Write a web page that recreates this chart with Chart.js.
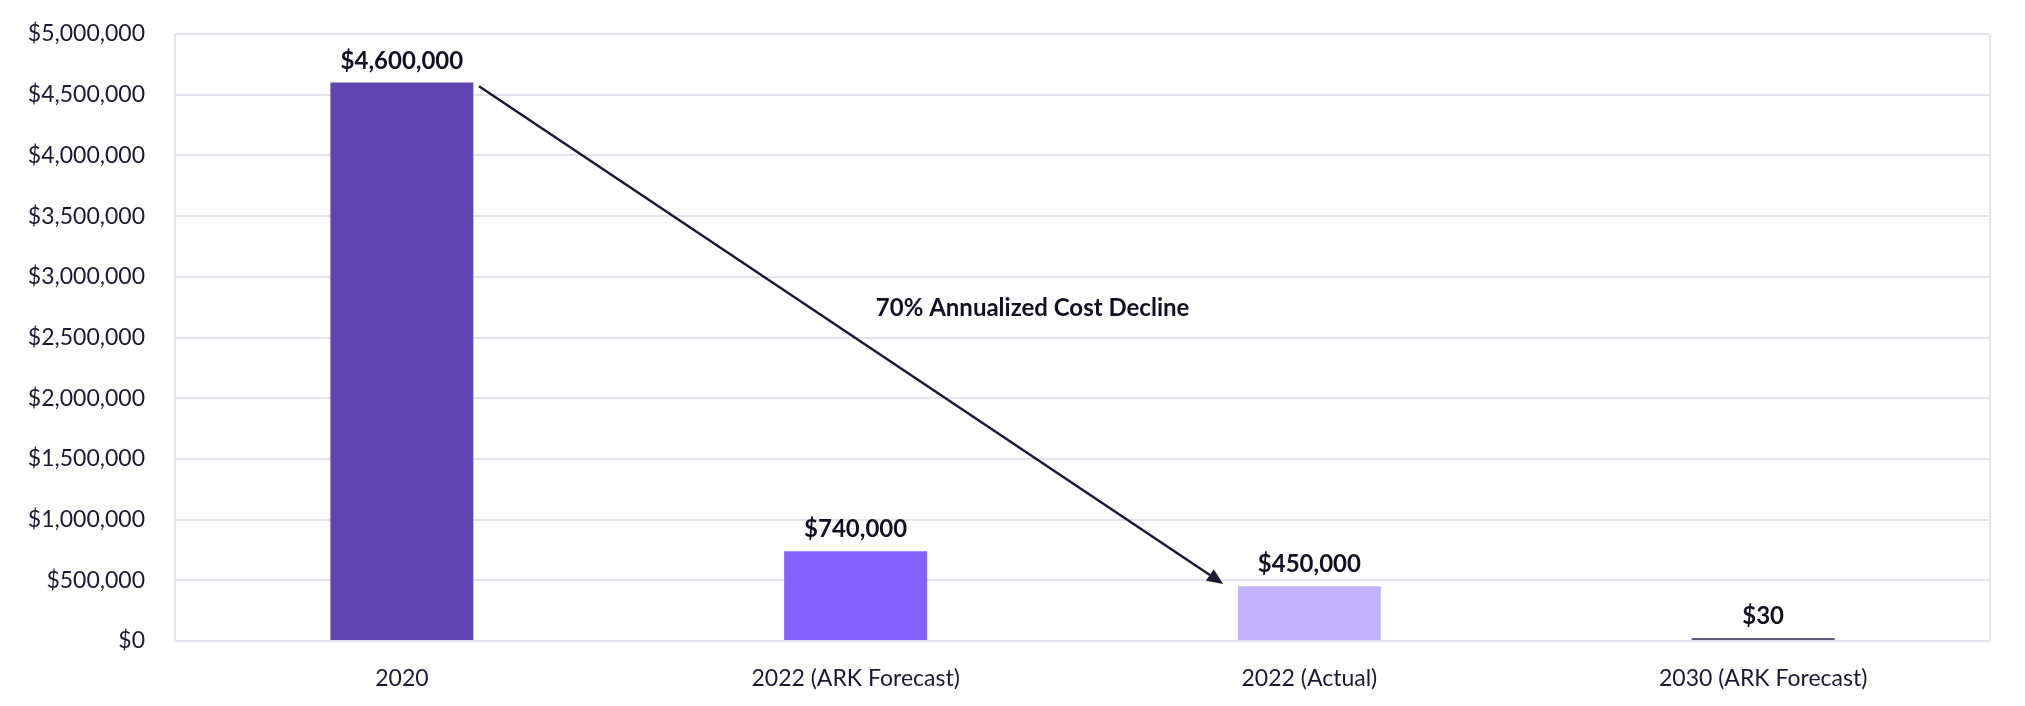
<!DOCTYPE html>
<html>
<head>
<meta charset="utf-8">
<script src="https://cdn.jsdelivr.net/npm/chart.js@4"></script>
<style>
html,body{margin:0;padding:0;background:#fff;}
#wrap{width:2025px;height:706px;}
</style>
</head>
<body>
<div id="wrap"><canvas id="c"></canvas></div>
<script>
const categories = ["2020", "2022 (ARK Forecast)", "2022 (Actual)", "2030 (ARK Forecast)"];
const costs = [4600000, 740000, 450000, 30];
const barColors = ["#5E45AF", "#8462FF", "#C3B3FF", "#5A5A7C"];
const yTickValues = [0, 500000, 1000000, 1500000, 2000000, 2500000, 3000000, 3500000, 4000000, 4500000, 5000000];
const annotationText = "70% Annualized Cost Decline";
const annotationPos = [1.39, 2740000];
const arrowFrom = [0.17, 4570000];
const arrowTo = [1.81, 470000];

const FONT = "Lato, 'Noto Sans', sans-serif";
const fmt = v => "$" + Math.round(v).toLocaleString("en-US");

const extras = {
  id: "extras",
  beforeDatasetsDraw(chart) {
    const ctx = chart.ctx, a = chart.chartArea;
    ctx.save();
    ctx.strokeStyle = "#e4e4ec";
    ctx.lineWidth = 2;
    ctx.beginPath();
    ctx.moveTo(a.right, a.top);
    ctx.lineTo(a.right, a.bottom);
    ctx.stroke();
    ctx.restore();
  },
  afterDatasetsDraw(chart) {
    const ctx = chart.ctx;
    const xs = chart.scales.x, ys = chart.scales.y;
    const meta = chart.getDatasetMeta(0);
    ctx.save();
    ctx.fillStyle = "#111122";
    ctx.font = "bold 24px " + FONT;
    ctx.textAlign = "center";
    ctx.textBaseline = "alphabetic";
    meta.data.forEach((bar, i) => {
      ctx.fillText(fmt(costs[i]), bar.x, bar.y - 14);
    });
    // annotation text
    ctx.textBaseline = "middle";
    ctx.fillText(annotationText, xs.getPixelForValue(annotationPos[0]), ys.getPixelForValue(annotationPos[1]));
    // arrow
    const x1 = xs.getPixelForValue(arrowFrom[0]), y1 = ys.getPixelForValue(arrowFrom[1]);
    const x2 = xs.getPixelForValue(arrowTo[0]), y2 = ys.getPixelForValue(arrowTo[1]);
    const ang = Math.atan2(y2 - y1, x2 - x1);
    const hl = 16, hw = 7;
    const bx = x2 - hl * Math.cos(ang), by = y2 - hl * Math.sin(ang);
    ctx.strokeStyle = "#1a1a33";
    ctx.fillStyle = "#1a1a33";
    ctx.lineWidth = 2.5;
    ctx.beginPath();
    ctx.moveTo(x1, y1);
    ctx.lineTo(bx, by);
    ctx.stroke();
    ctx.beginPath();
    ctx.moveTo(x2, y2);
    ctx.lineTo(bx + hw * Math.sin(ang), by - hw * Math.cos(ang));
    ctx.lineTo(bx - hw * Math.sin(ang), by + hw * Math.cos(ang));
    ctx.closePath();
    ctx.fill();
    ctx.restore();
  }
};

new Chart(document.getElementById("c"), {
  type: "bar",
  data: {
    labels: categories,
    datasets: [{
      data: costs,
      backgroundColor: barColors,
      borderWidth: 0,
      minBarLength: 3,
      categoryPercentage: 1,
      barPercentage: 0.315
    }]
  },
  options: {
    responsive: true,
    maintainAspectRatio: false,
    animation: false,
    devicePixelRatio: 1,
    layout: { padding: { left: 0, right: 35, top: 34, bottom: 0 } },
    plugins: { legend: { display: false }, tooltip: { enabled: false } },
    scales: {
      x: {
        grid: { display: false, drawTicks: false },
        border: { display: false },
        ticks: { color: "#1a1a2e", font: { family: FONT, size: 23 }, padding: 24, maxRotation: 0 },
        afterFit(s) { s.height = 65; }
      },
      y: {
        min: 0, max: 5000000,
        afterBuildTicks(s) { s.ticks = yTickValues.map(v => ({ value: v })); },
        grid: { color: "#e4e4ec", lineWidth: 2, drawTicks: false },
        border: { display: true, color: "#e4e4ec", width: 2 },
        ticks: { color: "#1a1a2e", font: { family: FONT, size: 23 }, padding: 30, callback: v => fmt(v) },
        afterFit(s) { s.width = 175; s.paddingTop = 0; s.paddingBottom = 0; }
      }
    }
  },
  plugins: [extras]
});
</script>
</body>
</html>
